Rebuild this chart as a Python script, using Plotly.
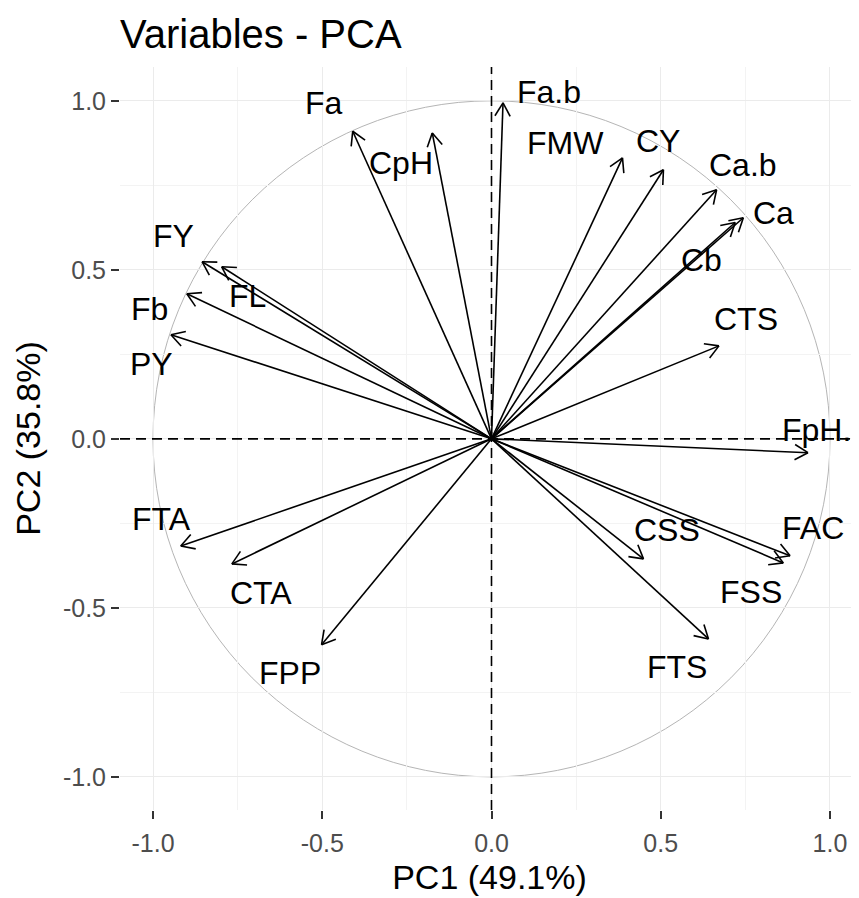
import math
import plotly.graph_objects as go

# ---- data ----
variables = ["Fa", "CpH", "Fa.b", "FY", "FL", "Fb", "PY", "FMW", "CY", "Ca.b", "Ca",
             "Cb", "CTS", "FpH.", "FTA", "CTA", "FPP", "CSS", "FAC", "FSS", "FTS"]
pc1 = [-0.410, -0.175, 0.034, -0.855, -0.797, -0.900, -0.947, 0.387, 0.508, 0.665, 0.744,
       0.720, 0.672, 0.935, -0.918, -0.767, -0.502, 0.449, 0.882, 0.862, 0.641]
pc2 = [0.910, 0.905, 0.994, 0.524, 0.509, 0.429, 0.308, 0.831, 0.796, 0.737, 0.654,
       0.640, 0.275, -0.041, -0.317, -0.370, -0.609, -0.355, -0.346, -0.367, -0.592]
tick_vals = [-1.0, -0.5, 0.0, 0.5, 1.0]
tick_text = ["-1.0", "-0.5", "0.0", "0.5", "1.0"]
x_title = "PC1 (49.1%)"
y_title = "PC2 (35.8%)"
chart_title = "Variables - PCA"

# ---- styling: label offsets in pixels (dx right, dy down) ----
label_offsets = {
    "Fa": (-29, -26), "CpH": (-31, 32), "Fa.b": (46, -9), "FY": (-29, -24),
    "FL": (26, 31), "Fb": (-37, 17), "PY": (-19, 31), "FMW": (-57, -13),
    "CY": (-5, -27), "Ca.b": (26, -23), "Ca": (30, -3), "Cb": (-34, 39),
    "CTS": (27, -25), "FpH.": (9, -21), "FTA": (-19, -25), "CTA": (29, 31),
    "FPP": (-32, 30), "CSS": (24, -27), "FAC": (23, -26), "FSS": (-32, 31),
    "FTS": (-31, 30),
}
FONT = "Liberation Sans, Arial, sans-serif"
head_len = 0.045   # arrow head length in axis units
head_ang = math.radians(30)

# arrows (shaft + open head) as one line trace
xs, ys = [], []
for x, y in zip(pc1, pc2):
    xs += [0, x, None]
    ys += [0, y, None]
    th = math.atan2(y, x)
    for s in (1, -1):
        a = th + math.pi + s * head_ang
        xs += [x + head_len * math.cos(a), x, None]
        ys += [y + head_len * math.sin(a), y, None]

fig = go.Figure()
fig.add_trace(go.Scatter(x=xs, y=ys, mode="lines",
                         line=dict(color="black", width=1.6),
                         hoverinfo="skip", showlegend=False))

for name, x, y in zip(variables, pc1, pc2):
    dx, dy = label_offsets[name]
    fig.add_annotation(x=x, y=y, text=name, showarrow=False,
                       xshift=dx, yshift=-dy + 2,
                       xanchor="center", yanchor="middle",
                       font=dict(family=FONT, size=32, color="black"))

# unit circle
fig.add_shape(type="circle", xref="x", yref="y", x0=-1, y0=-1, x1=1, y1=1,
              line=dict(color="#B5B5B5", width=1), layer="below")
# dashed zero lines
fig.add_shape(type="line", xref="x", yref="paper", x0=0, x1=0, y0=0, y1=1,
              line=dict(color="black", width=1.6, dash="10px,6px"))
fig.add_shape(type="line", xref="paper", yref="y", x0=0, x1=1, y0=0, y1=0,
              line=dict(color="black", width=1.6, dash="10px,6px"))

axis_common = dict(
    tickmode="array", tickvals=tick_vals, ticktext=tick_text,
    showgrid=True, gridcolor="#EBEBEB", gridwidth=1.4,
    minor=dict(dtick=0.25, tick0=0, showgrid=True, gridcolor="#F3F3F3", gridwidth=1),
    zeroline=False, showline=False,
    ticks="outside", ticklen=8, tickwidth=2, tickcolor="#333333",
    tickfont=dict(family=FONT, size=25, color="#4D4D4D"),
    automargin=False,
)

fig.update_layout(
    width=851, height=890,
    margin=dict(l=112, r=0, t=59, b=88),
    paper_bgcolor="white", plot_bgcolor="white",
    title=dict(text=chart_title, x=112 / 851, xref="container", xanchor="left",
               y=1 - 26 / 890, yref="container", yanchor="middle",
               font=dict(family=FONT, size=40, color="black")),
    xaxis=dict(range=[-1.0975, 1.0857], ticklabelstandoff=3,
               title=dict(text=x_title, standoff=9,
                          font=dict(family=FONT, size=34, color="black")),
               **axis_common),
    yaxis=dict(range=[-1.098, 1.100], ticklabelstandoff=0,
               title=dict(text=y_title, standoff=12,
                          font=dict(family=FONT, size=34, color="black")),
               **axis_common),
)

fig.write_html("out.html")
